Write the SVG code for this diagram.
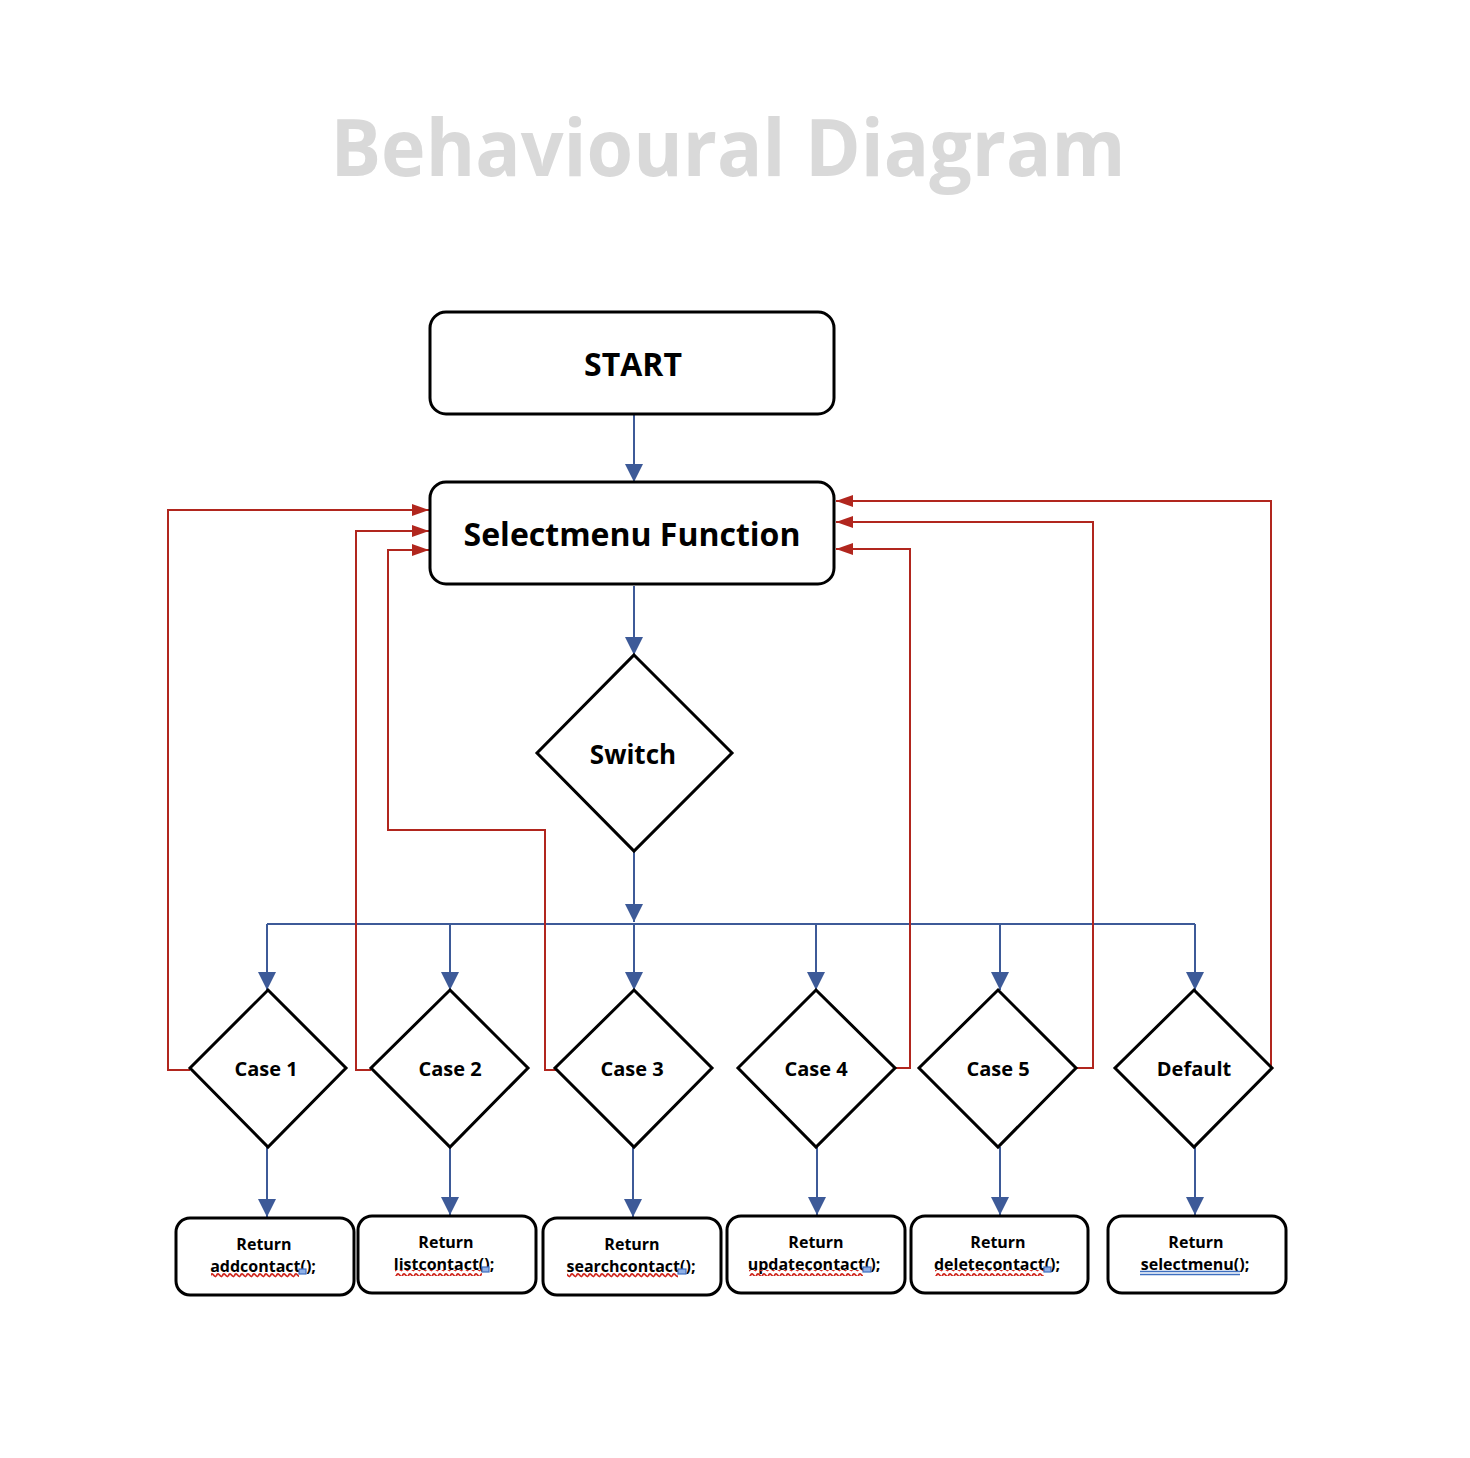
<svg xmlns="http://www.w3.org/2000/svg" width="1470" height="1458" viewBox="0 0 1470 1458">
<defs>
<style>
.node{fill:#ffffff;stroke:#000000;stroke-width:3}
.t{font-family:"Open Sans","Noto Sans","Liberation Sans",sans-serif;font-weight:700;fill:#000000;text-anchor:middle}
.blue{fill:none;stroke:#3d5a98;stroke-width:2}
.red{fill:none;stroke:#b1261e;stroke-width:2}
.sq{fill:url(#squig)}
.cur{fill:#8fb0e6;stroke:#3f6fc0;stroke-width:1.2}
</style>
<marker id="ab" markerUnits="userSpaceOnUse" markerWidth="18" markerHeight="18" refX="18" refY="9" orient="auto">
<path d="M0,0 L18,9 L0,18 z" fill="#3d5a98"/>
</marker>
<marker id="ar" markerUnits="userSpaceOnUse" markerWidth="17" markerHeight="12" refX="17" refY="6" orient="auto">
<path d="M0,0 L17,6 L0,12 z" fill="#b1261e"/>
</marker>
<pattern id="squig" patternUnits="userSpaceOnUse" width="6" height="6">
<path d="M0,4.5 Q1.5,0.5 3,2.5 T6,4.5" fill="none" stroke="#d0281e" stroke-width="1.8"/>
</pattern>
</defs>
<rect width="1470" height="1458" fill="#ffffff"/>
<text x="728" y="176" font-family="'Open Sans','Noto Sans','Liberation Sans',sans-serif" font-weight="700" font-size="78" fill="#d9d9d9" text-anchor="middle" textLength="795" lengthAdjust="spacingAndGlyphs">Behavioural Diagram</text>

<g id="connectors">
<path class="blue" d="M634,414 V482" marker-end="url(#ab)"/>
<path class="blue" d="M634,586 V655" marker-end="url(#ab)"/>
<path class="blue" d="M634,851 V922" marker-end="url(#ab)"/>
<path class="blue" d="M267,924 H1195"/>
<path class="blue" d="M267,924 V990" marker-end="url(#ab)"/>
<path class="blue" d="M450,924 V990" marker-end="url(#ab)"/>
<path class="blue" d="M634,924 V990" marker-end="url(#ab)"/>
<path class="blue" d="M816,924 V990" marker-end="url(#ab)"/>
<path class="blue" d="M1000,924 V990" marker-end="url(#ab)"/>
<path class="blue" d="M1195,924 V990" marker-end="url(#ab)"/>
<path class="blue" d="M267,1147 V1217" marker-end="url(#ab)"/>
<path class="blue" d="M450,1147 V1215" marker-end="url(#ab)"/>
<path class="blue" d="M633,1147 V1217" marker-end="url(#ab)"/>
<path class="blue" d="M817,1147 V1215" marker-end="url(#ab)"/>
<path class="blue" d="M1000,1147 V1215" marker-end="url(#ab)"/>
<path class="blue" d="M1195,1147 V1215" marker-end="url(#ab)"/>
<path class="red" d="M190,1070 H168 V510 H429" marker-end="url(#ar)"/>
<path class="red" d="M371,1070 H356 V531 H429" marker-end="url(#ar)"/>
<path class="red" d="M556,1070 H545 V830 H388 V550 H429" marker-end="url(#ar)"/>
<path class="red" d="M895,1068 H910 V549 H836" marker-end="url(#ar)"/>
<path class="red" d="M1076,1068 H1093 V522 H836" marker-end="url(#ar)"/>
<path class="red" d="M1272,1068 H1271 V501 H836" marker-end="url(#ar)"/>
</g>

<g id="start">
<rect class="node" x="430" y="312" width="404" height="102" rx="16"/>
<text class="t" x="633" y="376" font-size="32">START</text>
</g>
<g id="selectmenu">
<rect class="node" x="430" y="482" width="404" height="102" rx="16"/>
<text class="t" x="632" y="546" font-size="32">Selectmenu Function</text>
</g>
<g id="switch">
<polygon class="node" points="634,655 732,753 634,851 537,753"/>
<text class="t" x="633" y="764" font-size="26">Switch</text>
</g>

<g id="case1">
<polygon class="node" points="268,990 346,1068 268,1147 190,1068"/>
<text class="t" x="266" y="1076" font-size="20">Case 1</text>
</g>
<g id="case2">
<polygon class="node" points="450,990 528,1068 450,1147 371,1068"/>
<text class="t" x="450" y="1076" font-size="20">Case 2</text>
</g>
<g id="case3">
<polygon class="node" points="634,990 712,1068 634,1147 555,1068"/>
<text class="t" x="632" y="1076" font-size="20">Case 3</text>
</g>
<g id="case4">
<polygon class="node" points="816,990 895,1068 816,1147 738,1068"/>
<text class="t" x="816" y="1076" font-size="20">Case 4</text>
</g>
<g id="case5">
<polygon class="node" points="998,990 1076,1068 998,1147 919,1068"/>
<text class="t" x="998" y="1076" font-size="20">Case 5</text>
</g>
<g id="default">
<polygon class="node" points="1194,990 1272,1068 1194,1147 1115,1068"/>
<text class="t" x="1194" y="1076" font-size="20">Default</text>
</g>

<g id="ret1">
<rect class="node" x="176" y="1218" width="178" height="77" rx="14"/>
<text class="t" x="264" y="1250" font-size="16">Return</text>
<text class="t" x="263" y="1272" font-size="16">addcontact();</text>
<rect class="sq" x="211" y="1272" width="88" height="6"/>
<rect class="cur" x="299" y="1269" width="7" height="5"/>
</g>
<g id="ret2">
<rect class="node" x="358" y="1216" width="178" height="77" rx="14"/>
<text class="t" x="446" y="1248" font-size="16">Return</text>
<text class="t" x="444" y="1270" font-size="16">listcontact();</text>
<rect class="sq" x="395" y="1270" width="87" height="6"/>
<rect class="cur" x="482" y="1267" width="7" height="5"/>
</g>
<g id="ret3">
<rect class="node" x="543" y="1218" width="178" height="77" rx="14"/>
<text class="t" x="632" y="1250" font-size="16">Return</text>
<text class="t" x="631" y="1272" font-size="16">searchcontact();</text>
<rect class="sq" x="567" y="1272" width="111" height="6"/>
<rect class="cur" x="678" y="1269" width="8" height="5"/>
</g>
<g id="ret4">
<rect class="node" x="727" y="1216" width="178" height="77" rx="14"/>
<text class="t" x="816" y="1248" font-size="16">Return</text>
<text class="t" x="814" y="1270" font-size="16">updatecontact();</text>
<rect class="sq" x="749" y="1270" width="114" height="6"/>
<rect class="cur" x="863" y="1267" width="8" height="5"/>
</g>
<g id="ret5">
<rect class="node" x="911" y="1216" width="177" height="77" rx="14"/>
<text class="t" x="998" y="1248" font-size="16">Return</text>
<text class="t" x="997" y="1270" font-size="16">deletecontact();</text>
<rect class="sq" x="935" y="1270" width="109" height="6"/>
<rect class="cur" x="1044" y="1267" width="7" height="5"/>
</g>
<g id="ret6">
<rect class="node" x="1108" y="1216" width="178" height="77" rx="14"/>
<text class="t" x="1196" y="1248" font-size="16">Return</text>
<text class="t" x="1195" y="1270" font-size="16">selectmenu();</text>
<path d="M1140,1271.5 H1240 M1140,1274.5 H1240" fill="none" stroke="#3f6fc0" stroke-width="1.4"/>
</g>
</svg>
